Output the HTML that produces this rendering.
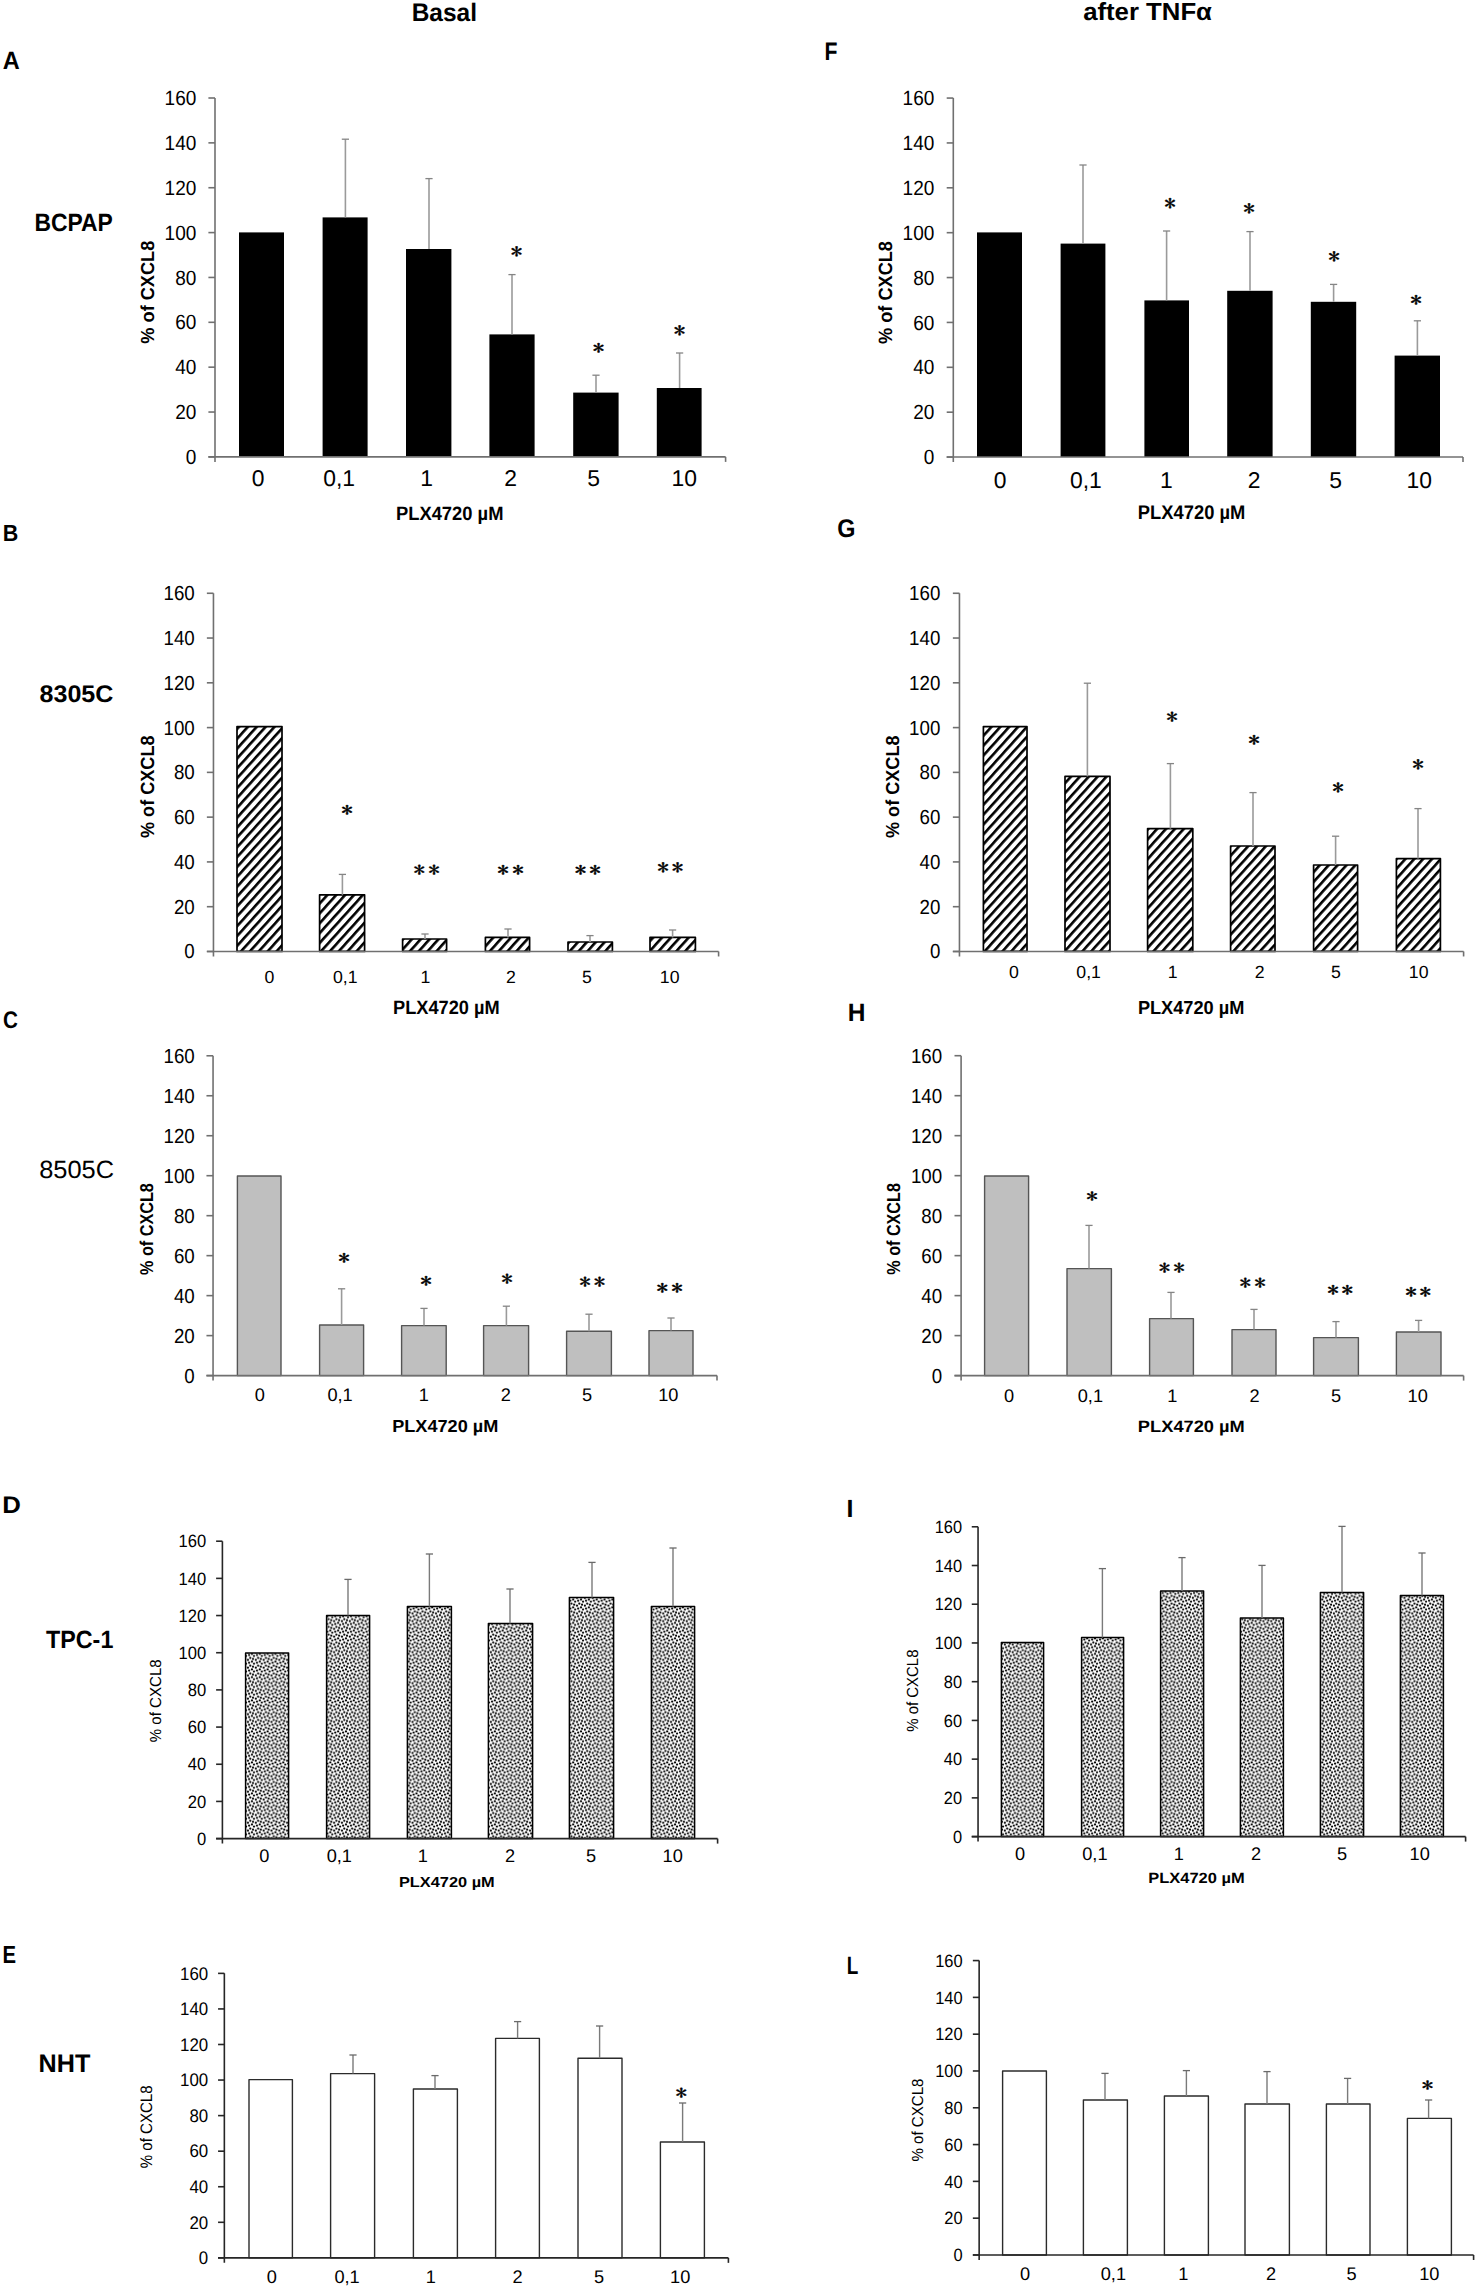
<!DOCTYPE html>
<html><head><meta charset="utf-8"><title>CXCL8 PLX4720 figure</title>
<style>html,body{margin:0;padding:0;background:#fff;}svg{display:block;}</style></head>
<body><svg width="1475" height="2292" viewBox="0 0 1475 2292" font-family='"Liberation Sans", sans-serif' text-rendering="geometricPrecision">
<defs>
<pattern id="hatchB" patternUnits="userSpaceOnUse" width="6.6" height="20" patternTransform="translate(3.5 0) rotate(42)">
<rect x="0" y="0" width="2.6" height="20" fill="#000"/>
</pattern>
<pattern id="hatchG" patternUnits="userSpaceOnUse" width="6.6" height="20" patternTransform="translate(1.1 0) rotate(42)">
<rect x="0" y="0" width="2.6" height="20" fill="#000"/>
</pattern>
<pattern id="dotsD" patternUnits="userSpaceOnUse" x="250" y="1700" width="7.835" height="7.755"><rect width="7.835" height="7.755" fill="#fff"/><circle cx="1.930" cy="0.410" r="1.1" fill="#000"/><circle cx="1.930" cy="8.165" r="1.1" fill="#000"/><circle cx="-0.925" cy="1.530" r="1.1" fill="#000"/><circle cx="6.910" cy="1.530" r="1.1" fill="#000"/><circle cx="3.970" cy="2.540" r="1.1" fill="#000"/><circle cx="0.310" cy="4.470" r="1.1" fill="#000"/><circle cx="8.145" cy="4.470" r="1.1" fill="#000"/><circle cx="2.950" cy="5.490" r="1.1" fill="#000"/><circle cx="5.800" cy="6.510" r="1.1" fill="#000"/></pattern>
<pattern id="dotsI" patternUnits="userSpaceOnUse" x="1006.87" y="1700" width="7.835" height="7.755"><rect width="7.835" height="7.755" fill="#fff"/><circle cx="1.930" cy="0.410" r="1.1" fill="#000"/><circle cx="1.930" cy="8.165" r="1.1" fill="#000"/><circle cx="-0.925" cy="1.530" r="1.1" fill="#000"/><circle cx="6.910" cy="1.530" r="1.1" fill="#000"/><circle cx="3.970" cy="2.540" r="1.1" fill="#000"/><circle cx="0.310" cy="4.470" r="1.1" fill="#000"/><circle cx="8.145" cy="4.470" r="1.1" fill="#000"/><circle cx="2.950" cy="5.490" r="1.1" fill="#000"/><circle cx="5.800" cy="6.510" r="1.1" fill="#000"/></pattern>
</defs>
<rect width="1475" height="2292" fill="#fff"/>
<rect x="239" y="232.4" width="45" height="224.5" fill="#000"/>
<rect x="322.6" y="217.4" width="45" height="239.5" fill="#000"/>
<rect x="406" y="249" width="45.4" height="207.9" fill="#000"/>
<rect x="489.4" y="334.4" width="45.2" height="122.5" fill="#000"/>
<rect x="573.2" y="392.6" width="45.4" height="64.3" fill="#000"/>
<rect x="656.8" y="388" width="44.8" height="68.9" fill="#000"/>
<line x1="345.4" y1="217.4" x2="345.4" y2="139.2" stroke="#9a9a9a" stroke-width="1.6"/>
<line x1="341.8" y1="139.2" x2="349" y2="139.2" stroke="#858585" stroke-width="1.3"/>
<line x1="429" y1="249" x2="429" y2="178.6" stroke="#9a9a9a" stroke-width="1.6"/>
<line x1="425.4" y1="178.6" x2="432.6" y2="178.6" stroke="#858585" stroke-width="1.3"/>
<line x1="512" y1="334.4" x2="512" y2="274.6" stroke="#9a9a9a" stroke-width="1.6"/>
<line x1="508.4" y1="274.6" x2="515.6" y2="274.6" stroke="#858585" stroke-width="1.3"/>
<line x1="596" y1="392.6" x2="596" y2="375.2" stroke="#9a9a9a" stroke-width="1.6"/>
<line x1="592.4" y1="375.2" x2="599.6" y2="375.2" stroke="#858585" stroke-width="1.3"/>
<line x1="679.6" y1="388" x2="679.6" y2="353" stroke="#9a9a9a" stroke-width="1.6"/>
<line x1="676" y1="353" x2="683.2" y2="353" stroke="#858585" stroke-width="1.3"/>
<line x1="215" y1="98" x2="215" y2="461.9" stroke="#707070" stroke-width="1.6"/>
<line x1="208.4" y1="456.9" x2="725.6" y2="456.9" stroke="#707070" stroke-width="1.6"/>
<line x1="725.6" y1="456.9" x2="725.6" y2="461.9" stroke="#707070" stroke-width="1.6"/>
<line x1="208.4" y1="456.9" x2="215" y2="456.9" stroke="#707070" stroke-width="1.6"/>
<text x="185.77" y="463.98" font-size="20.58" fill="#000" textLength="10.57" lengthAdjust="spacingAndGlyphs">0</text>
<line x1="208.4" y1="412.04" x2="215" y2="412.04" stroke="#707070" stroke-width="1.6"/>
<text x="175.2" y="419.12" font-size="20.58" fill="#000" textLength="21.15" lengthAdjust="spacingAndGlyphs">20</text>
<line x1="208.4" y1="367.17" x2="215" y2="367.17" stroke="#707070" stroke-width="1.6"/>
<text x="175.2" y="374.26" font-size="20.58" fill="#000" textLength="21.15" lengthAdjust="spacingAndGlyphs">40</text>
<line x1="208.4" y1="322.31" x2="215" y2="322.31" stroke="#707070" stroke-width="1.6"/>
<text x="175.2" y="329.4" font-size="20.58" fill="#000" textLength="21.15" lengthAdjust="spacingAndGlyphs">60</text>
<line x1="208.4" y1="277.45" x2="215" y2="277.45" stroke="#707070" stroke-width="1.6"/>
<text x="175.2" y="284.53" font-size="20.58" fill="#000" textLength="21.15" lengthAdjust="spacingAndGlyphs">80</text>
<line x1="208.4" y1="232.59" x2="215" y2="232.59" stroke="#707070" stroke-width="1.6"/>
<text x="164.62" y="239.67" font-size="20.58" fill="#000" textLength="31.72" lengthAdjust="spacingAndGlyphs">100</text>
<line x1="208.4" y1="187.73" x2="215" y2="187.73" stroke="#707070" stroke-width="1.6"/>
<text x="164.62" y="194.81" font-size="20.58" fill="#000" textLength="31.72" lengthAdjust="spacingAndGlyphs">120</text>
<line x1="208.4" y1="142.86" x2="215" y2="142.86" stroke="#707070" stroke-width="1.6"/>
<text x="164.62" y="149.95" font-size="20.58" fill="#000" textLength="31.72" lengthAdjust="spacingAndGlyphs">140</text>
<line x1="208.4" y1="98" x2="215" y2="98" stroke="#707070" stroke-width="1.6"/>
<text x="164.62" y="105.08" font-size="20.58" fill="#000" textLength="31.72" lengthAdjust="spacingAndGlyphs">160</text>
<text x="251.64" y="486.3" font-size="22.88" fill="#000">0</text>
<text x="323.21" y="486.3" font-size="22.88" fill="#000">0,1</text>
<text x="420.32" y="486.3" font-size="22.88" fill="#000">1</text>
<text x="504.14" y="486.3" font-size="22.88" fill="#000">2</text>
<text x="587.16" y="486.3" font-size="22.88" fill="#000">5</text>
<text x="671.55" y="486.3" font-size="22.88" fill="#000">10</text>
<text transform="translate(510.82 259.33) scale(1.15 1)" font-family="IPAGothic, 'Liberation Sans', sans-serif" font-size="20.2" stroke="#000" stroke-width="0.35">*</text>
<text transform="translate(592.82 355.17) scale(1.22 1)" font-family="IPAGothic, 'Liberation Sans', sans-serif" font-size="19" stroke="#000" stroke-width="0.35">*</text>
<text transform="translate(673.82 338.33) scale(1.15 1)" font-family="IPAGothic, 'Liberation Sans', sans-serif" font-size="20.2" stroke="#000" stroke-width="0.35">*</text>
<text transform="translate(154.42 343.65) rotate(-90)" font-size="18.79" font-weight="bold" textLength="102.91" lengthAdjust="spacingAndGlyphs">% of CXCL8</text>
<text x="395.97" y="519.6" font-size="19.34" font-weight="bold" textLength="107.45" lengthAdjust="spacingAndGlyphs" fill="#000">PLX4720 µM</text>
<rect x="977" y="232.4" width="45" height="224.65" fill="#000"/>
<rect x="1060.6" y="243.6" width="44.8" height="213.45" fill="#000"/>
<rect x="1144.4" y="300.4" width="44.6" height="156.65" fill="#000"/>
<rect x="1227.2" y="290.8" width="45.4" height="166.25" fill="#000"/>
<rect x="1310.8" y="301.8" width="45.4" height="155.25" fill="#000"/>
<rect x="1394.6" y="355.6" width="45.4" height="101.45" fill="#000"/>
<line x1="1083" y1="243.6" x2="1083" y2="165" stroke="#9a9a9a" stroke-width="1.6"/>
<line x1="1079.4" y1="165" x2="1086.6" y2="165" stroke="#858585" stroke-width="1.3"/>
<line x1="1166.6" y1="300.4" x2="1166.6" y2="231" stroke="#9a9a9a" stroke-width="1.6"/>
<line x1="1163" y1="231" x2="1170.2" y2="231" stroke="#858585" stroke-width="1.3"/>
<line x1="1250" y1="290.8" x2="1250" y2="231.6" stroke="#9a9a9a" stroke-width="1.6"/>
<line x1="1246.4" y1="231.6" x2="1253.6" y2="231.6" stroke="#858585" stroke-width="1.3"/>
<line x1="1333.6" y1="301.8" x2="1333.6" y2="284.4" stroke="#9a9a9a" stroke-width="1.6"/>
<line x1="1330" y1="284.4" x2="1337.2" y2="284.4" stroke="#858585" stroke-width="1.3"/>
<line x1="1417.4" y1="355.6" x2="1417.4" y2="320.8" stroke="#9a9a9a" stroke-width="1.6"/>
<line x1="1413.8" y1="320.8" x2="1421" y2="320.8" stroke="#858585" stroke-width="1.3"/>
<line x1="953.3" y1="98.07" x2="953.3" y2="462.05" stroke="#707070" stroke-width="1.6"/>
<line x1="946.7" y1="457.05" x2="1463" y2="457.05" stroke="#707070" stroke-width="1.6"/>
<line x1="1463" y1="457.05" x2="1463" y2="462.05" stroke="#707070" stroke-width="1.6"/>
<line x1="946.7" y1="457.05" x2="953.3" y2="457.05" stroke="#707070" stroke-width="1.6"/>
<text x="923.77" y="464.13" font-size="20.58" fill="#000" textLength="10.57" lengthAdjust="spacingAndGlyphs">0</text>
<line x1="946.7" y1="412.18" x2="953.3" y2="412.18" stroke="#707070" stroke-width="1.6"/>
<text x="913.2" y="419.26" font-size="20.58" fill="#000" textLength="21.15" lengthAdjust="spacingAndGlyphs">20</text>
<line x1="946.7" y1="367.31" x2="953.3" y2="367.31" stroke="#707070" stroke-width="1.6"/>
<text x="913.2" y="374.39" font-size="20.58" fill="#000" textLength="21.15" lengthAdjust="spacingAndGlyphs">40</text>
<line x1="946.7" y1="322.43" x2="953.3" y2="322.43" stroke="#707070" stroke-width="1.6"/>
<text x="913.2" y="329.52" font-size="20.58" fill="#000" textLength="21.15" lengthAdjust="spacingAndGlyphs">60</text>
<line x1="946.7" y1="277.56" x2="953.3" y2="277.56" stroke="#707070" stroke-width="1.6"/>
<text x="913.2" y="284.64" font-size="20.58" fill="#000" textLength="21.15" lengthAdjust="spacingAndGlyphs">80</text>
<line x1="946.7" y1="232.69" x2="953.3" y2="232.69" stroke="#707070" stroke-width="1.6"/>
<text x="902.62" y="239.77" font-size="20.58" fill="#000" textLength="31.72" lengthAdjust="spacingAndGlyphs">100</text>
<line x1="946.7" y1="187.81" x2="953.3" y2="187.81" stroke="#707070" stroke-width="1.6"/>
<text x="902.62" y="194.9" font-size="20.58" fill="#000" textLength="31.72" lengthAdjust="spacingAndGlyphs">120</text>
<line x1="946.7" y1="142.94" x2="953.3" y2="142.94" stroke="#707070" stroke-width="1.6"/>
<text x="902.62" y="150.03" font-size="20.58" fill="#000" textLength="31.72" lengthAdjust="spacingAndGlyphs">140</text>
<line x1="946.7" y1="98.07" x2="953.3" y2="98.07" stroke="#707070" stroke-width="1.6"/>
<text x="902.62" y="105.15" font-size="20.58" fill="#000" textLength="31.72" lengthAdjust="spacingAndGlyphs">160</text>
<text x="993.74" y="487.5" font-size="22.88" fill="#000">0</text>
<text x="1070.01" y="487.5" font-size="22.88" fill="#000">0,1</text>
<text x="1159.92" y="487.5" font-size="22.88" fill="#000">1</text>
<text x="1247.84" y="487.5" font-size="22.88" fill="#000">2</text>
<text x="1329.26" y="487.5" font-size="22.88" fill="#000">5</text>
<text x="1406.55" y="487.5" font-size="22.88" fill="#000">10</text>
<text transform="translate(1164.22 210.98) scale(1.12 1)" font-family="IPAGothic, 'Liberation Sans', sans-serif" font-size="20.6" stroke="#000" stroke-width="0.35">*</text>
<text transform="translate(1243.22 215.73) scale(1.15 1)" font-family="IPAGothic, 'Liberation Sans', sans-serif" font-size="20.2" stroke="#000" stroke-width="0.35">*</text>
<text transform="translate(1328.22 264.33) scale(1.15 1)" font-family="IPAGothic, 'Liberation Sans', sans-serif" font-size="20.2" stroke="#000" stroke-width="0.35">*</text>
<text transform="translate(1410.22 307.17) scale(1.22 1)" font-family="IPAGothic, 'Liberation Sans', sans-serif" font-size="19" stroke="#000" stroke-width="0.35">*</text>
<text transform="translate(892.31 343.95) rotate(-90)" font-size="19.2" font-weight="bold" textLength="102.91" lengthAdjust="spacingAndGlyphs">% of CXCL8</text>
<text x="1137.87" y="518.8" font-size="19.77" font-weight="bold" textLength="107.45" lengthAdjust="spacingAndGlyphs" fill="#000">PLX4720 µM</text>
<rect x="237" y="726.6" width="45" height="224.87" fill="url(#hatchB)" stroke="#000" stroke-width="1.7" stroke-linejoin="round"/>
<rect x="319.6" y="894.8" width="45" height="56.67" fill="url(#hatchB)" stroke="#000" stroke-width="1.7" stroke-linejoin="round"/>
<rect x="402.6" y="939" width="44" height="12.47" fill="url(#hatchB)" stroke="#000" stroke-width="1.7" stroke-linejoin="round"/>
<rect x="485.4" y="937.4" width="44.2" height="14.07" fill="url(#hatchB)" stroke="#000" stroke-width="1.7" stroke-linejoin="round"/>
<rect x="568" y="942" width="44.4" height="9.47" fill="url(#hatchB)" stroke="#000" stroke-width="1.7" stroke-linejoin="round"/>
<rect x="650" y="937.4" width="45.4" height="14.07" fill="url(#hatchB)" stroke="#000" stroke-width="1.7" stroke-linejoin="round"/>
<line x1="342.4" y1="894.8" x2="342.4" y2="874.4" stroke="#9a9a9a" stroke-width="1.6"/>
<line x1="338.8" y1="874.4" x2="346" y2="874.4" stroke="#858585" stroke-width="1.3"/>
<line x1="425" y1="939" x2="425" y2="934" stroke="#9a9a9a" stroke-width="1.6"/>
<line x1="421.4" y1="934" x2="428.6" y2="934" stroke="#858585" stroke-width="1.3"/>
<line x1="508" y1="937.4" x2="508" y2="929" stroke="#9a9a9a" stroke-width="1.6"/>
<line x1="504.4" y1="929" x2="511.6" y2="929" stroke="#858585" stroke-width="1.3"/>
<line x1="590" y1="942" x2="590" y2="935.6" stroke="#9a9a9a" stroke-width="1.6"/>
<line x1="586.4" y1="935.6" x2="593.6" y2="935.6" stroke="#858585" stroke-width="1.3"/>
<line x1="672.6" y1="937.4" x2="672.6" y2="930" stroke="#9a9a9a" stroke-width="1.6"/>
<line x1="669" y1="930" x2="676.2" y2="930" stroke="#858585" stroke-width="1.3"/>
<line x1="213.46" y1="593.27" x2="213.46" y2="956.47" stroke="#707070" stroke-width="1.6"/>
<line x1="206.86" y1="951.47" x2="718.6" y2="951.47" stroke="#707070" stroke-width="1.6"/>
<line x1="718.6" y1="951.47" x2="718.6" y2="956.47" stroke="#707070" stroke-width="1.6"/>
<line x1="206.86" y1="951.47" x2="213.46" y2="951.47" stroke="#707070" stroke-width="1.6"/>
<text x="184.32" y="958.45" font-size="20.27" fill="#000" textLength="10.41" lengthAdjust="spacingAndGlyphs">0</text>
<line x1="206.86" y1="906.7" x2="213.46" y2="906.7" stroke="#707070" stroke-width="1.6"/>
<text x="173.91" y="913.67" font-size="20.27" fill="#000" textLength="20.82" lengthAdjust="spacingAndGlyphs">20</text>
<line x1="206.86" y1="861.92" x2="213.46" y2="861.92" stroke="#707070" stroke-width="1.6"/>
<text x="173.91" y="868.9" font-size="20.27" fill="#000" textLength="20.82" lengthAdjust="spacingAndGlyphs">40</text>
<line x1="206.86" y1="817.14" x2="213.46" y2="817.14" stroke="#707070" stroke-width="1.6"/>
<text x="173.91" y="824.12" font-size="20.27" fill="#000" textLength="20.82" lengthAdjust="spacingAndGlyphs">60</text>
<line x1="206.86" y1="772.37" x2="213.46" y2="772.37" stroke="#707070" stroke-width="1.6"/>
<text x="173.91" y="779.35" font-size="20.27" fill="#000" textLength="20.82" lengthAdjust="spacingAndGlyphs">80</text>
<line x1="206.86" y1="727.6" x2="213.46" y2="727.6" stroke="#707070" stroke-width="1.6"/>
<text x="163.5" y="734.57" font-size="20.27" fill="#000" textLength="31.24" lengthAdjust="spacingAndGlyphs">100</text>
<line x1="206.86" y1="682.82" x2="213.46" y2="682.82" stroke="#707070" stroke-width="1.6"/>
<text x="163.5" y="689.8" font-size="20.27" fill="#000" textLength="31.24" lengthAdjust="spacingAndGlyphs">120</text>
<line x1="206.86" y1="638.04" x2="213.46" y2="638.04" stroke="#707070" stroke-width="1.6"/>
<text x="163.5" y="645.02" font-size="20.27" fill="#000" textLength="31.24" lengthAdjust="spacingAndGlyphs">140</text>
<line x1="206.86" y1="593.27" x2="213.46" y2="593.27" stroke="#707070" stroke-width="1.6"/>
<text x="163.5" y="600.25" font-size="20.27" fill="#000" textLength="31.24" lengthAdjust="spacingAndGlyphs">160</text>
<text x="264.58" y="983" font-size="17.68" fill="#000">0</text>
<text x="332.9" y="983" font-size="17.68" fill="#000">0,1</text>
<text x="420.44" y="983" font-size="17.68" fill="#000">1</text>
<text x="506.08" y="983" font-size="17.68" fill="#000">2</text>
<text x="582.1" y="983" font-size="17.68" fill="#000">5</text>
<text x="659.84" y="983" font-size="17.68" fill="#000">10</text>
<text transform="translate(341.22 816.57) scale(1.22 1)" font-family="IPAGothic, 'Liberation Sans', sans-serif" font-size="19" stroke="#000" stroke-width="0.35">*</text>
<text transform="translate(413.62 877.42) scale(1.19 1)" font-family="IPAGothic, 'Liberation Sans', sans-serif" font-size="19.4" stroke="#000" stroke-width="0.35">*</text>
<text transform="translate(428.22 877.42) scale(1.19 1)" font-family="IPAGothic, 'Liberation Sans', sans-serif" font-size="19.4" stroke="#000" stroke-width="0.35">*</text>
<text transform="translate(497.22 877.17) scale(1.22 1)" font-family="IPAGothic, 'Liberation Sans', sans-serif" font-size="19" stroke="#000" stroke-width="0.35">*</text>
<text transform="translate(512.22 877.17) scale(1.22 1)" font-family="IPAGothic, 'Liberation Sans', sans-serif" font-size="19" stroke="#000" stroke-width="0.35">*</text>
<text transform="translate(574.82 877.17) scale(1.22 1)" font-family="IPAGothic, 'Liberation Sans', sans-serif" font-size="19" stroke="#000" stroke-width="0.35">*</text>
<text transform="translate(589.22 877.17) scale(1.22 1)" font-family="IPAGothic, 'Liberation Sans', sans-serif" font-size="19" stroke="#000" stroke-width="0.35">*</text>
<text transform="translate(657.22 875.33) scale(1.15 1)" font-family="IPAGothic, 'Liberation Sans', sans-serif" font-size="20.2" stroke="#000" stroke-width="0.35">*</text>
<text transform="translate(671.82 875.33) scale(1.15 1)" font-family="IPAGothic, 'Liberation Sans', sans-serif" font-size="20.2" stroke="#000" stroke-width="0.35">*</text>
<text transform="translate(153.51 838.05) rotate(-90)" font-size="19.06" font-weight="bold" textLength="102.61" lengthAdjust="spacingAndGlyphs">% of CXCL8</text>
<text x="393.08" y="1014" font-size="19.34" font-weight="bold" textLength="106.53" lengthAdjust="spacingAndGlyphs" fill="#000">PLX4720 µM</text>
<rect x="983.4" y="726.6" width="43.6" height="224.87" fill="url(#hatchG)" stroke="#000" stroke-width="1.7" stroke-linejoin="round"/>
<rect x="1065" y="776.4" width="45" height="175.07" fill="url(#hatchG)" stroke="#000" stroke-width="1.7" stroke-linejoin="round"/>
<rect x="1147.6" y="828.6" width="45.2" height="122.87" fill="url(#hatchG)" stroke="#000" stroke-width="1.7" stroke-linejoin="round"/>
<rect x="1230.6" y="846" width="44.4" height="105.47" fill="url(#hatchG)" stroke="#000" stroke-width="1.7" stroke-linejoin="round"/>
<rect x="1313.6" y="865" width="44" height="86.47" fill="url(#hatchG)" stroke="#000" stroke-width="1.7" stroke-linejoin="round"/>
<rect x="1396.4" y="858.6" width="44" height="92.87" fill="url(#hatchG)" stroke="#000" stroke-width="1.7" stroke-linejoin="round"/>
<line x1="1087.4" y1="776.4" x2="1087.4" y2="683.2" stroke="#9a9a9a" stroke-width="1.6"/>
<line x1="1083.8" y1="683.2" x2="1091" y2="683.2" stroke="#858585" stroke-width="1.3"/>
<line x1="1170.4" y1="828.6" x2="1170.4" y2="763.6" stroke="#9a9a9a" stroke-width="1.6"/>
<line x1="1166.8" y1="763.6" x2="1174" y2="763.6" stroke="#858585" stroke-width="1.3"/>
<line x1="1253" y1="846" x2="1253" y2="792.6" stroke="#9a9a9a" stroke-width="1.6"/>
<line x1="1249.4" y1="792.6" x2="1256.6" y2="792.6" stroke="#858585" stroke-width="1.3"/>
<line x1="1335.6" y1="865" x2="1335.6" y2="836.2" stroke="#9a9a9a" stroke-width="1.6"/>
<line x1="1332" y1="836.2" x2="1339.2" y2="836.2" stroke="#858585" stroke-width="1.3"/>
<line x1="1418" y1="858.6" x2="1418" y2="808.6" stroke="#9a9a9a" stroke-width="1.6"/>
<line x1="1414.4" y1="808.6" x2="1421.6" y2="808.6" stroke="#858585" stroke-width="1.3"/>
<line x1="959.46" y1="593.27" x2="959.46" y2="956.47" stroke="#707070" stroke-width="1.6"/>
<line x1="952.86" y1="951.47" x2="1463.6" y2="951.47" stroke="#707070" stroke-width="1.6"/>
<line x1="1463.6" y1="951.47" x2="1463.6" y2="956.47" stroke="#707070" stroke-width="1.6"/>
<line x1="952.86" y1="951.47" x2="959.46" y2="951.47" stroke="#707070" stroke-width="1.6"/>
<text x="929.92" y="958.45" font-size="20.27" fill="#000" textLength="10.41" lengthAdjust="spacingAndGlyphs">0</text>
<line x1="952.86" y1="906.7" x2="959.46" y2="906.7" stroke="#707070" stroke-width="1.6"/>
<text x="919.51" y="913.67" font-size="20.27" fill="#000" textLength="20.82" lengthAdjust="spacingAndGlyphs">20</text>
<line x1="952.86" y1="861.92" x2="959.46" y2="861.92" stroke="#707070" stroke-width="1.6"/>
<text x="919.51" y="868.9" font-size="20.27" fill="#000" textLength="20.82" lengthAdjust="spacingAndGlyphs">40</text>
<line x1="952.86" y1="817.14" x2="959.46" y2="817.14" stroke="#707070" stroke-width="1.6"/>
<text x="919.51" y="824.12" font-size="20.27" fill="#000" textLength="20.82" lengthAdjust="spacingAndGlyphs">60</text>
<line x1="952.86" y1="772.37" x2="959.46" y2="772.37" stroke="#707070" stroke-width="1.6"/>
<text x="919.51" y="779.35" font-size="20.27" fill="#000" textLength="20.82" lengthAdjust="spacingAndGlyphs">80</text>
<line x1="952.86" y1="727.6" x2="959.46" y2="727.6" stroke="#707070" stroke-width="1.6"/>
<text x="909.1" y="734.57" font-size="20.27" fill="#000" textLength="31.24" lengthAdjust="spacingAndGlyphs">100</text>
<line x1="952.86" y1="682.82" x2="959.46" y2="682.82" stroke="#707070" stroke-width="1.6"/>
<text x="909.1" y="689.8" font-size="20.27" fill="#000" textLength="31.24" lengthAdjust="spacingAndGlyphs">120</text>
<line x1="952.86" y1="638.04" x2="959.46" y2="638.04" stroke="#707070" stroke-width="1.6"/>
<text x="909.1" y="645.02" font-size="20.27" fill="#000" textLength="31.24" lengthAdjust="spacingAndGlyphs">140</text>
<line x1="952.86" y1="593.27" x2="959.46" y2="593.27" stroke="#707070" stroke-width="1.6"/>
<text x="909.1" y="600.25" font-size="20.27" fill="#000" textLength="31.24" lengthAdjust="spacingAndGlyphs">160</text>
<text x="1009.08" y="978.3" font-size="17.68" fill="#000">0</text>
<text x="1076.3" y="978.3" font-size="17.68" fill="#000">0,1</text>
<text x="1167.84" y="978.3" font-size="17.68" fill="#000">1</text>
<text x="1254.68" y="978.3" font-size="17.68" fill="#000">2</text>
<text x="1331.1" y="978.3" font-size="17.68" fill="#000">5</text>
<text x="1408.84" y="978.3" font-size="17.68" fill="#000">10</text>
<text transform="translate(1166.22 724.22) scale(1.19 1)" font-family="IPAGothic, 'Liberation Sans', sans-serif" font-size="19.4" stroke="#000" stroke-width="0.35">*</text>
<text transform="translate(1248.22 746.57) scale(1.22 1)" font-family="IPAGothic, 'Liberation Sans', sans-serif" font-size="19" stroke="#000" stroke-width="0.35">*</text>
<text transform="translate(1332.22 794.67) scale(1.17 1)" font-family="IPAGothic, 'Liberation Sans', sans-serif" font-size="19.8" stroke="#000" stroke-width="0.35">*</text>
<text transform="translate(1412.22 772.33) scale(1.15 1)" font-family="IPAGothic, 'Liberation Sans', sans-serif" font-size="20.2" stroke="#000" stroke-width="0.35">*</text>
<text transform="translate(898.72 838.05) rotate(-90)" font-size="18.79" font-weight="bold" textLength="102.61" lengthAdjust="spacingAndGlyphs">% of CXCL8</text>
<text x="1137.88" y="1014.4" font-size="18.77" font-weight="bold" textLength="106.43" lengthAdjust="spacingAndGlyphs" fill="#000">PLX4720 µM</text>
<rect x="237.4" y="1176" width="43.6" height="199.58" fill="#bfbfbf" stroke="#555" stroke-width="1.4" stroke-linejoin="round"/>
<rect x="319.6" y="1325" width="44" height="50.58" fill="#bfbfbf" stroke="#555" stroke-width="1.4" stroke-linejoin="round"/>
<rect x="401.6" y="1325.6" width="44.6" height="49.98" fill="#bfbfbf" stroke="#555" stroke-width="1.4" stroke-linejoin="round"/>
<rect x="483.6" y="1325.6" width="45" height="49.98" fill="#bfbfbf" stroke="#555" stroke-width="1.4" stroke-linejoin="round"/>
<rect x="566.6" y="1331.2" width="44.8" height="44.38" fill="#bfbfbf" stroke="#555" stroke-width="1.4" stroke-linejoin="round"/>
<rect x="649" y="1330.6" width="44" height="44.98" fill="#bfbfbf" stroke="#555" stroke-width="1.4" stroke-linejoin="round"/>
<line x1="341.6" y1="1325" x2="341.6" y2="1288.8" stroke="#9a9a9a" stroke-width="1.6"/>
<line x1="338" y1="1288.8" x2="345.2" y2="1288.8" stroke="#858585" stroke-width="1.3"/>
<line x1="424" y1="1325.6" x2="424" y2="1308.4" stroke="#9a9a9a" stroke-width="1.6"/>
<line x1="420.4" y1="1308.4" x2="427.6" y2="1308.4" stroke="#858585" stroke-width="1.3"/>
<line x1="506.4" y1="1325.6" x2="506.4" y2="1306.2" stroke="#9a9a9a" stroke-width="1.6"/>
<line x1="502.8" y1="1306.2" x2="510" y2="1306.2" stroke="#858585" stroke-width="1.3"/>
<line x1="589" y1="1331.2" x2="589" y2="1314.2" stroke="#9a9a9a" stroke-width="1.6"/>
<line x1="585.4" y1="1314.2" x2="592.6" y2="1314.2" stroke="#858585" stroke-width="1.3"/>
<line x1="671" y1="1330.6" x2="671" y2="1318" stroke="#9a9a9a" stroke-width="1.6"/>
<line x1="667.4" y1="1318" x2="674.6" y2="1318" stroke="#858585" stroke-width="1.3"/>
<line x1="213.05" y1="1055.78" x2="213.05" y2="1380.58" stroke="#707070" stroke-width="1.6"/>
<line x1="206.45" y1="1375.58" x2="717" y2="1375.58" stroke="#707070" stroke-width="1.6"/>
<line x1="717" y1="1375.58" x2="717" y2="1380.58" stroke="#707070" stroke-width="1.6"/>
<line x1="206.45" y1="1375.58" x2="213.05" y2="1375.58" stroke="#707070" stroke-width="1.6"/>
<text x="184.32" y="1382.56" font-size="20.27" fill="#000" textLength="10.41" lengthAdjust="spacingAndGlyphs">0</text>
<line x1="206.45" y1="1335.61" x2="213.05" y2="1335.61" stroke="#707070" stroke-width="1.6"/>
<text x="173.91" y="1342.58" font-size="20.27" fill="#000" textLength="20.82" lengthAdjust="spacingAndGlyphs">20</text>
<line x1="206.45" y1="1295.63" x2="213.05" y2="1295.63" stroke="#707070" stroke-width="1.6"/>
<text x="173.91" y="1302.61" font-size="20.27" fill="#000" textLength="20.82" lengthAdjust="spacingAndGlyphs">40</text>
<line x1="206.45" y1="1255.65" x2="213.05" y2="1255.65" stroke="#707070" stroke-width="1.6"/>
<text x="173.91" y="1262.63" font-size="20.27" fill="#000" textLength="20.82" lengthAdjust="spacingAndGlyphs">60</text>
<line x1="206.45" y1="1215.68" x2="213.05" y2="1215.68" stroke="#707070" stroke-width="1.6"/>
<text x="173.91" y="1222.66" font-size="20.27" fill="#000" textLength="20.82" lengthAdjust="spacingAndGlyphs">80</text>
<line x1="206.45" y1="1175.7" x2="213.05" y2="1175.7" stroke="#707070" stroke-width="1.6"/>
<text x="163.5" y="1182.68" font-size="20.27" fill="#000" textLength="31.24" lengthAdjust="spacingAndGlyphs">100</text>
<line x1="206.45" y1="1135.73" x2="213.05" y2="1135.73" stroke="#707070" stroke-width="1.6"/>
<text x="163.5" y="1142.71" font-size="20.27" fill="#000" textLength="31.24" lengthAdjust="spacingAndGlyphs">120</text>
<line x1="206.45" y1="1095.76" x2="213.05" y2="1095.76" stroke="#707070" stroke-width="1.6"/>
<text x="163.5" y="1102.73" font-size="20.27" fill="#000" textLength="31.24" lengthAdjust="spacingAndGlyphs">140</text>
<line x1="206.45" y1="1055.78" x2="213.05" y2="1055.78" stroke="#707070" stroke-width="1.6"/>
<text x="163.5" y="1062.76" font-size="20.27" fill="#000" textLength="31.24" lengthAdjust="spacingAndGlyphs">160</text>
<text x="254.84" y="1400.6" font-size="18.2" fill="#000">0</text>
<text x="327.44" y="1400.6" font-size="18.2" fill="#000">0,1</text>
<text x="418.69" y="1400.6" font-size="18.2" fill="#000">1</text>
<text x="500.74" y="1400.6" font-size="18.2" fill="#000">2</text>
<text x="581.96" y="1400.6" font-size="18.2" fill="#000">5</text>
<text x="658.14" y="1400.6" font-size="18.2" fill="#000">10</text>
<text transform="translate(338.22 1264.57) scale(1.22 1)" font-family="IPAGothic, 'Liberation Sans', sans-serif" font-size="19" stroke="#000" stroke-width="0.35">*</text>
<text transform="translate(420.22 1287.57) scale(1.22 1)" font-family="IPAGothic, 'Liberation Sans', sans-serif" font-size="19" stroke="#000" stroke-width="0.35">*</text>
<text transform="translate(501.22 1286.22) scale(1.19 1)" font-family="IPAGothic, 'Liberation Sans', sans-serif" font-size="19.4" stroke="#000" stroke-width="0.35">*</text>
<text transform="translate(579.22 1288.82) scale(1.19 1)" font-family="IPAGothic, 'Liberation Sans', sans-serif" font-size="19.4" stroke="#000" stroke-width="0.35">*</text>
<text transform="translate(593.82 1288.82) scale(1.19 1)" font-family="IPAGothic, 'Liberation Sans', sans-serif" font-size="19.4" stroke="#000" stroke-width="0.35">*</text>
<text transform="translate(656.62 1294.57) scale(1.22 1)" font-family="IPAGothic, 'Liberation Sans', sans-serif" font-size="19" stroke="#000" stroke-width="0.35">*</text>
<text transform="translate(671.22 1294.57) scale(1.22 1)" font-family="IPAGothic, 'Liberation Sans', sans-serif" font-size="19" stroke="#000" stroke-width="0.35">*</text>
<text transform="translate(153.32 1275) rotate(-90)" font-size="18.52" font-weight="bold" textLength="91.9" lengthAdjust="spacingAndGlyphs">% of CXCL8</text>
<text x="392.19" y="1431.5" font-size="17.34" font-weight="bold" textLength="106.12" lengthAdjust="spacingAndGlyphs" fill="#000">PLX4720 µM</text>
<rect x="984.6" y="1176" width="44" height="199.6" fill="#bfbfbf" stroke="#555" stroke-width="1.4" stroke-linejoin="round"/>
<rect x="1067" y="1268.6" width="44.4" height="107" fill="#bfbfbf" stroke="#555" stroke-width="1.4" stroke-linejoin="round"/>
<rect x="1149.6" y="1318.6" width="43.8" height="57" fill="#bfbfbf" stroke="#555" stroke-width="1.4" stroke-linejoin="round"/>
<rect x="1232" y="1329.6" width="44" height="46" fill="#bfbfbf" stroke="#555" stroke-width="1.4" stroke-linejoin="round"/>
<rect x="1313.6" y="1337.6" width="44.8" height="38" fill="#bfbfbf" stroke="#555" stroke-width="1.4" stroke-linejoin="round"/>
<rect x="1396.4" y="1332" width="44.6" height="43.6" fill="#bfbfbf" stroke="#555" stroke-width="1.4" stroke-linejoin="round"/>
<line x1="1089" y1="1268.6" x2="1089" y2="1225.4" stroke="#9a9a9a" stroke-width="1.6"/>
<line x1="1085.4" y1="1225.4" x2="1092.6" y2="1225.4" stroke="#858585" stroke-width="1.3"/>
<line x1="1171" y1="1318.6" x2="1171" y2="1292.4" stroke="#9a9a9a" stroke-width="1.6"/>
<line x1="1167.4" y1="1292.4" x2="1174.6" y2="1292.4" stroke="#858585" stroke-width="1.3"/>
<line x1="1254" y1="1329.6" x2="1254" y2="1309.4" stroke="#9a9a9a" stroke-width="1.6"/>
<line x1="1250.4" y1="1309.4" x2="1257.6" y2="1309.4" stroke="#858585" stroke-width="1.3"/>
<line x1="1336" y1="1337.6" x2="1336" y2="1321.6" stroke="#9a9a9a" stroke-width="1.6"/>
<line x1="1332.4" y1="1321.6" x2="1339.6" y2="1321.6" stroke="#858585" stroke-width="1.3"/>
<line x1="1418.6" y1="1332" x2="1418.6" y2="1320.4" stroke="#9a9a9a" stroke-width="1.6"/>
<line x1="1415" y1="1320.4" x2="1422.2" y2="1320.4" stroke="#858585" stroke-width="1.3"/>
<line x1="961.1" y1="1055.7" x2="961.1" y2="1380.6" stroke="#707070" stroke-width="1.6"/>
<line x1="954.5" y1="1375.6" x2="1463.6" y2="1375.6" stroke="#707070" stroke-width="1.6"/>
<line x1="1463.6" y1="1375.6" x2="1463.6" y2="1380.6" stroke="#707070" stroke-width="1.6"/>
<line x1="954.5" y1="1375.6" x2="961.1" y2="1375.6" stroke="#707070" stroke-width="1.6"/>
<text x="931.72" y="1382.58" font-size="20.27" fill="#000" textLength="10.41" lengthAdjust="spacingAndGlyphs">0</text>
<line x1="954.5" y1="1335.61" x2="961.1" y2="1335.61" stroke="#707070" stroke-width="1.6"/>
<text x="921.31" y="1342.59" font-size="20.27" fill="#000" textLength="20.82" lengthAdjust="spacingAndGlyphs">20</text>
<line x1="954.5" y1="1295.62" x2="961.1" y2="1295.62" stroke="#707070" stroke-width="1.6"/>
<text x="921.31" y="1302.6" font-size="20.27" fill="#000" textLength="20.82" lengthAdjust="spacingAndGlyphs">40</text>
<line x1="954.5" y1="1255.64" x2="961.1" y2="1255.64" stroke="#707070" stroke-width="1.6"/>
<text x="921.31" y="1262.61" font-size="20.27" fill="#000" textLength="20.82" lengthAdjust="spacingAndGlyphs">60</text>
<line x1="954.5" y1="1215.65" x2="961.1" y2="1215.65" stroke="#707070" stroke-width="1.6"/>
<text x="921.31" y="1222.63" font-size="20.27" fill="#000" textLength="20.82" lengthAdjust="spacingAndGlyphs">80</text>
<line x1="954.5" y1="1175.66" x2="961.1" y2="1175.66" stroke="#707070" stroke-width="1.6"/>
<text x="910.9" y="1182.64" font-size="20.27" fill="#000" textLength="31.24" lengthAdjust="spacingAndGlyphs">100</text>
<line x1="954.5" y1="1135.67" x2="961.1" y2="1135.67" stroke="#707070" stroke-width="1.6"/>
<text x="910.9" y="1142.65" font-size="20.27" fill="#000" textLength="31.24" lengthAdjust="spacingAndGlyphs">120</text>
<line x1="954.5" y1="1095.69" x2="961.1" y2="1095.69" stroke="#707070" stroke-width="1.6"/>
<text x="910.9" y="1102.66" font-size="20.27" fill="#000" textLength="31.24" lengthAdjust="spacingAndGlyphs">140</text>
<line x1="954.5" y1="1055.7" x2="961.1" y2="1055.7" stroke="#707070" stroke-width="1.6"/>
<text x="910.9" y="1062.68" font-size="20.27" fill="#000" textLength="31.24" lengthAdjust="spacingAndGlyphs">160</text>
<text x="1003.94" y="1402.2" font-size="18.2" fill="#000">0</text>
<text x="1077.74" y="1402.2" font-size="18.2" fill="#000">0,1</text>
<text x="1167.19" y="1402.2" font-size="18.2" fill="#000">1</text>
<text x="1249.54" y="1402.2" font-size="18.2" fill="#000">2</text>
<text x="1330.96" y="1402.2" font-size="18.2" fill="#000">5</text>
<text x="1407.54" y="1402.2" font-size="18.2" fill="#000">10</text>
<text transform="translate(1086.22 1203.07) scale(1.27 1)" font-family="IPAGothic, 'Liberation Sans', sans-serif" font-size="18.2" stroke="#000" stroke-width="0.35">*</text>
<text transform="translate(1158.82 1274.82) scale(1.19 1)" font-family="IPAGothic, 'Liberation Sans', sans-serif" font-size="19.4" stroke="#000" stroke-width="0.35">*</text>
<text transform="translate(1173.22 1274.82) scale(1.19 1)" font-family="IPAGothic, 'Liberation Sans', sans-serif" font-size="19.4" stroke="#000" stroke-width="0.35">*</text>
<text transform="translate(1239.62 1290.22) scale(1.19 1)" font-family="IPAGothic, 'Liberation Sans', sans-serif" font-size="19.4" stroke="#000" stroke-width="0.35">*</text>
<text transform="translate(1254.22 1290.22) scale(1.19 1)" font-family="IPAGothic, 'Liberation Sans', sans-serif" font-size="19.4" stroke="#000" stroke-width="0.35">*</text>
<text transform="translate(1327.22 1296.57) scale(1.22 1)" font-family="IPAGothic, 'Liberation Sans', sans-serif" font-size="19" stroke="#000" stroke-width="0.35">*</text>
<text transform="translate(1341.62 1296.57) scale(1.22 1)" font-family="IPAGothic, 'Liberation Sans', sans-serif" font-size="19" stroke="#000" stroke-width="0.35">*</text>
<text transform="translate(1405.22 1298.57) scale(1.22 1)" font-family="IPAGothic, 'Liberation Sans', sans-serif" font-size="19" stroke="#000" stroke-width="0.35">*</text>
<text transform="translate(1419.62 1298.57) scale(1.22 1)" font-family="IPAGothic, 'Liberation Sans', sans-serif" font-size="19" stroke="#000" stroke-width="0.35">*</text>
<text transform="translate(900.42 1274.7) rotate(-90)" font-size="18.79" font-weight="bold" textLength="91.6" lengthAdjust="spacingAndGlyphs">% of CXCL8</text>
<text x="1137.88" y="1431.8" font-size="16.48" font-weight="bold" textLength="106.94" lengthAdjust="spacingAndGlyphs" fill="#000">PLX4720 µM</text>
<rect x="245.6" y="1653" width="43" height="185.6" fill="url(#dotsD)" stroke="#000" stroke-width="1.5" stroke-linejoin="round"/>
<rect x="326.6" y="1615.4" width="43" height="223.2" fill="url(#dotsD)" stroke="#000" stroke-width="1.5" stroke-linejoin="round"/>
<rect x="407.4" y="1606.6" width="44" height="232" fill="url(#dotsD)" stroke="#000" stroke-width="1.5" stroke-linejoin="round"/>
<rect x="488.4" y="1623.6" width="44.2" height="215" fill="url(#dotsD)" stroke="#000" stroke-width="1.5" stroke-linejoin="round"/>
<rect x="569.4" y="1597.6" width="44.2" height="241" fill="url(#dotsD)" stroke="#000" stroke-width="1.5" stroke-linejoin="round"/>
<rect x="651.4" y="1606.4" width="43.2" height="232.2" fill="url(#dotsD)" stroke="#000" stroke-width="1.5" stroke-linejoin="round"/>
<line x1="348" y1="1615.4" x2="348" y2="1579.4" stroke="#7a7a7a" stroke-width="1.4"/>
<line x1="344.4" y1="1579.4" x2="351.6" y2="1579.4" stroke="#6a6a6a" stroke-width="1.3"/>
<line x1="429.4" y1="1606.6" x2="429.4" y2="1554" stroke="#7a7a7a" stroke-width="1.4"/>
<line x1="425.8" y1="1554" x2="433" y2="1554" stroke="#6a6a6a" stroke-width="1.3"/>
<line x1="510" y1="1623.6" x2="510" y2="1589" stroke="#7a7a7a" stroke-width="1.4"/>
<line x1="506.4" y1="1589" x2="513.6" y2="1589" stroke="#6a6a6a" stroke-width="1.3"/>
<line x1="592" y1="1597.6" x2="592" y2="1562.4" stroke="#7a7a7a" stroke-width="1.4"/>
<line x1="588.4" y1="1562.4" x2="595.6" y2="1562.4" stroke="#6a6a6a" stroke-width="1.3"/>
<line x1="673" y1="1606.4" x2="673" y2="1548" stroke="#7a7a7a" stroke-width="1.4"/>
<line x1="669.4" y1="1548" x2="676.6" y2="1548" stroke="#6a6a6a" stroke-width="1.3"/>
<line x1="222.4" y1="1541.2" x2="222.4" y2="1843.6" stroke="#262626" stroke-width="1.6"/>
<line x1="216.1" y1="1838.6" x2="717.6" y2="1838.6" stroke="#262626" stroke-width="1.6"/>
<line x1="717.6" y1="1838.6" x2="717.6" y2="1843.6" stroke="#262626" stroke-width="1.6"/>
<line x1="216.1" y1="1838.6" x2="222.4" y2="1838.6" stroke="#262626" stroke-width="1.6"/>
<text x="197.02" y="1844.78" font-size="17.96" fill="#000" textLength="9.22" lengthAdjust="spacingAndGlyphs">0</text>
<line x1="216.1" y1="1801.42" x2="222.4" y2="1801.42" stroke="#262626" stroke-width="1.6"/>
<text x="187.8" y="1807.61" font-size="17.96" fill="#000" textLength="18.45" lengthAdjust="spacingAndGlyphs">20</text>
<line x1="216.1" y1="1764.25" x2="222.4" y2="1764.25" stroke="#262626" stroke-width="1.6"/>
<text x="187.8" y="1770.43" font-size="17.96" fill="#000" textLength="18.45" lengthAdjust="spacingAndGlyphs">40</text>
<line x1="216.1" y1="1727.08" x2="222.4" y2="1727.08" stroke="#262626" stroke-width="1.6"/>
<text x="187.8" y="1733.26" font-size="17.96" fill="#000" textLength="18.45" lengthAdjust="spacingAndGlyphs">60</text>
<line x1="216.1" y1="1689.9" x2="222.4" y2="1689.9" stroke="#262626" stroke-width="1.6"/>
<text x="187.8" y="1696.08" font-size="17.96" fill="#000" textLength="18.45" lengthAdjust="spacingAndGlyphs">80</text>
<line x1="216.1" y1="1652.72" x2="222.4" y2="1652.72" stroke="#262626" stroke-width="1.6"/>
<text x="178.57" y="1658.91" font-size="17.96" fill="#000" textLength="27.67" lengthAdjust="spacingAndGlyphs">100</text>
<line x1="216.1" y1="1615.55" x2="222.4" y2="1615.55" stroke="#262626" stroke-width="1.6"/>
<text x="178.57" y="1621.73" font-size="17.96" fill="#000" textLength="27.67" lengthAdjust="spacingAndGlyphs">120</text>
<line x1="216.1" y1="1578.38" x2="222.4" y2="1578.38" stroke="#262626" stroke-width="1.6"/>
<text x="178.57" y="1584.56" font-size="17.96" fill="#000" textLength="27.67" lengthAdjust="spacingAndGlyphs">140</text>
<line x1="216.1" y1="1541.2" x2="222.4" y2="1541.2" stroke="#262626" stroke-width="1.6"/>
<text x="178.57" y="1547.38" font-size="17.96" fill="#000" textLength="27.67" lengthAdjust="spacingAndGlyphs">160</text>
<text x="259.24" y="1861.5" font-size="18.2" fill="#000">0</text>
<text x="326.64" y="1861.5" font-size="18.2" fill="#000">0,1</text>
<text x="417.69" y="1861.5" font-size="18.2" fill="#000">1</text>
<text x="504.94" y="1861.5" font-size="18.2" fill="#000">2</text>
<text x="585.96" y="1861.5" font-size="18.2" fill="#000">5</text>
<text x="662.54" y="1861.5" font-size="18.2" fill="#000">10</text>
<text transform="translate(161.14 1742.24) rotate(-90)" font-size="15.95" textLength="82.89" lengthAdjust="spacingAndGlyphs">% of CXCL8</text>
<text x="398.91" y="1887.4" font-size="14.47" font-weight="bold" textLength="95.79" lengthAdjust="spacingAndGlyphs" fill="#000">PLX4720 µM</text>
<rect x="1001.4" y="1642.6" width="42.2" height="194" fill="url(#dotsI)" stroke="#000" stroke-width="1.5" stroke-linejoin="round"/>
<rect x="1081.6" y="1637.6" width="42" height="199" fill="url(#dotsI)" stroke="#000" stroke-width="1.5" stroke-linejoin="round"/>
<rect x="1160.6" y="1591" width="43" height="245.6" fill="url(#dotsI)" stroke="#000" stroke-width="1.5" stroke-linejoin="round"/>
<rect x="1240.4" y="1618" width="43" height="218.6" fill="url(#dotsI)" stroke="#000" stroke-width="1.5" stroke-linejoin="round"/>
<rect x="1320.4" y="1592.6" width="43.2" height="244" fill="url(#dotsI)" stroke="#000" stroke-width="1.5" stroke-linejoin="round"/>
<rect x="1400.4" y="1595.6" width="43" height="241" fill="url(#dotsI)" stroke="#000" stroke-width="1.5" stroke-linejoin="round"/>
<line x1="1102.4" y1="1637.6" x2="1102.4" y2="1568.6" stroke="#7a7a7a" stroke-width="1.4"/>
<line x1="1098.8" y1="1568.6" x2="1106" y2="1568.6" stroke="#6a6a6a" stroke-width="1.3"/>
<line x1="1182" y1="1591" x2="1182" y2="1557.6" stroke="#7a7a7a" stroke-width="1.4"/>
<line x1="1178.4" y1="1557.6" x2="1185.6" y2="1557.6" stroke="#6a6a6a" stroke-width="1.3"/>
<line x1="1262" y1="1618" x2="1262" y2="1565.4" stroke="#7a7a7a" stroke-width="1.4"/>
<line x1="1258.4" y1="1565.4" x2="1265.6" y2="1565.4" stroke="#6a6a6a" stroke-width="1.3"/>
<line x1="1342" y1="1592.6" x2="1342" y2="1526.4" stroke="#7a7a7a" stroke-width="1.4"/>
<line x1="1338.4" y1="1526.4" x2="1345.6" y2="1526.4" stroke="#6a6a6a" stroke-width="1.3"/>
<line x1="1422" y1="1595.6" x2="1422" y2="1553" stroke="#7a7a7a" stroke-width="1.4"/>
<line x1="1418.4" y1="1553" x2="1425.6" y2="1553" stroke="#6a6a6a" stroke-width="1.3"/>
<line x1="978.05" y1="1526.78" x2="978.05" y2="1841.6" stroke="#262626" stroke-width="1.6"/>
<line x1="971.75" y1="1836.6" x2="1465.6" y2="1836.6" stroke="#262626" stroke-width="1.6"/>
<line x1="1465.6" y1="1836.6" x2="1465.6" y2="1841.6" stroke="#262626" stroke-width="1.6"/>
<line x1="971.75" y1="1836.6" x2="978.05" y2="1836.6" stroke="#262626" stroke-width="1.6"/>
<text x="952.92" y="1842.71" font-size="17.75" fill="#000" textLength="9.12" lengthAdjust="spacingAndGlyphs">0</text>
<line x1="971.75" y1="1797.87" x2="978.05" y2="1797.87" stroke="#262626" stroke-width="1.6"/>
<text x="943.81" y="1803.98" font-size="17.75" fill="#000" textLength="18.23" lengthAdjust="spacingAndGlyphs">20</text>
<line x1="971.75" y1="1759.14" x2="978.05" y2="1759.14" stroke="#262626" stroke-width="1.6"/>
<text x="943.81" y="1765.25" font-size="17.75" fill="#000" textLength="18.23" lengthAdjust="spacingAndGlyphs">40</text>
<line x1="971.75" y1="1720.42" x2="978.05" y2="1720.42" stroke="#262626" stroke-width="1.6"/>
<text x="943.81" y="1726.53" font-size="17.75" fill="#000" textLength="18.23" lengthAdjust="spacingAndGlyphs">60</text>
<line x1="971.75" y1="1681.69" x2="978.05" y2="1681.69" stroke="#262626" stroke-width="1.6"/>
<text x="943.81" y="1687.8" font-size="17.75" fill="#000" textLength="18.23" lengthAdjust="spacingAndGlyphs">80</text>
<line x1="971.75" y1="1642.96" x2="978.05" y2="1642.96" stroke="#262626" stroke-width="1.6"/>
<text x="934.69" y="1649.07" font-size="17.75" fill="#000" textLength="27.35" lengthAdjust="spacingAndGlyphs">100</text>
<line x1="971.75" y1="1604.23" x2="978.05" y2="1604.23" stroke="#262626" stroke-width="1.6"/>
<text x="934.69" y="1610.34" font-size="17.75" fill="#000" textLength="27.35" lengthAdjust="spacingAndGlyphs">120</text>
<line x1="971.75" y1="1565.51" x2="978.05" y2="1565.51" stroke="#262626" stroke-width="1.6"/>
<text x="934.69" y="1571.62" font-size="17.75" fill="#000" textLength="27.35" lengthAdjust="spacingAndGlyphs">140</text>
<line x1="971.75" y1="1526.78" x2="978.05" y2="1526.78" stroke="#262626" stroke-width="1.6"/>
<text x="934.69" y="1532.89" font-size="17.75" fill="#000" textLength="27.35" lengthAdjust="spacingAndGlyphs">160</text>
<text x="1014.94" y="1859.8" font-size="18.2" fill="#000">0</text>
<text x="1082.24" y="1859.8" font-size="18.2" fill="#000">0,1</text>
<text x="1173.69" y="1859.8" font-size="18.2" fill="#000">1</text>
<text x="1250.94" y="1859.8" font-size="18.2" fill="#000">2</text>
<text x="1336.96" y="1859.8" font-size="18.2" fill="#000">5</text>
<text x="1409.54" y="1859.8" font-size="18.2" fill="#000">10</text>
<text transform="translate(918.14 1731.73) rotate(-90)" font-size="16.09" textLength="82.18" lengthAdjust="spacingAndGlyphs">% of CXCL8</text>
<text x="1148.3" y="1882.6" font-size="14.76" font-weight="bold" textLength="96.4" lengthAdjust="spacingAndGlyphs" fill="#000">PLX4720 µM</text>
<rect x="249" y="2079.6" width="43.4" height="178.26" fill="#fff" stroke="#2b2b2b" stroke-width="1.4" stroke-linejoin="round"/>
<rect x="330.6" y="2073.6" width="44" height="184.26" fill="#fff" stroke="#2b2b2b" stroke-width="1.4" stroke-linejoin="round"/>
<rect x="413.4" y="2089" width="44" height="168.86" fill="#fff" stroke="#2b2b2b" stroke-width="1.4" stroke-linejoin="round"/>
<rect x="495.6" y="2038.4" width="43.8" height="219.46" fill="#fff" stroke="#2b2b2b" stroke-width="1.4" stroke-linejoin="round"/>
<rect x="578" y="2058.2" width="44" height="199.66" fill="#fff" stroke="#2b2b2b" stroke-width="1.4" stroke-linejoin="round"/>
<rect x="660.4" y="2142" width="44" height="115.86" fill="#fff" stroke="#2b2b2b" stroke-width="1.4" stroke-linejoin="round"/>
<line x1="353" y1="2073.6" x2="353" y2="2055" stroke="#7a7a7a" stroke-width="1.4"/>
<line x1="349.4" y1="2055" x2="356.6" y2="2055" stroke="#6a6a6a" stroke-width="1.3"/>
<line x1="435" y1="2089" x2="435" y2="2075.6" stroke="#7a7a7a" stroke-width="1.4"/>
<line x1="431.4" y1="2075.6" x2="438.6" y2="2075.6" stroke="#6a6a6a" stroke-width="1.3"/>
<line x1="517.6" y1="2038.4" x2="517.6" y2="2021.6" stroke="#7a7a7a" stroke-width="1.4"/>
<line x1="514" y1="2021.6" x2="521.2" y2="2021.6" stroke="#6a6a6a" stroke-width="1.3"/>
<line x1="599.6" y1="2058.2" x2="599.6" y2="2026" stroke="#7a7a7a" stroke-width="1.4"/>
<line x1="596" y1="2026" x2="603.2" y2="2026" stroke="#6a6a6a" stroke-width="1.3"/>
<line x1="682.6" y1="2142" x2="682.6" y2="2103" stroke="#7a7a7a" stroke-width="1.4"/>
<line x1="679" y1="2103" x2="686.2" y2="2103" stroke="#6a6a6a" stroke-width="1.3"/>
<line x1="224.35" y1="1973.37" x2="224.35" y2="2262.86" stroke="#262626" stroke-width="1.6"/>
<line x1="218.05" y1="2257.86" x2="728.4" y2="2257.86" stroke="#262626" stroke-width="1.6"/>
<line x1="728.4" y1="2257.86" x2="728.4" y2="2262.86" stroke="#262626" stroke-width="1.6"/>
<line x1="218.05" y1="2257.86" x2="224.35" y2="2257.86" stroke="#262626" stroke-width="1.6"/>
<text x="198.87" y="2264.15" font-size="18.27" fill="#000" textLength="9.39" lengthAdjust="spacingAndGlyphs">0</text>
<line x1="218.05" y1="2222.3" x2="224.35" y2="2222.3" stroke="#262626" stroke-width="1.6"/>
<text x="189.49" y="2228.59" font-size="18.27" fill="#000" textLength="18.77" lengthAdjust="spacingAndGlyphs">20</text>
<line x1="218.05" y1="2186.74" x2="224.35" y2="2186.74" stroke="#262626" stroke-width="1.6"/>
<text x="189.49" y="2193.03" font-size="18.27" fill="#000" textLength="18.77" lengthAdjust="spacingAndGlyphs">40</text>
<line x1="218.05" y1="2151.18" x2="224.35" y2="2151.18" stroke="#262626" stroke-width="1.6"/>
<text x="189.49" y="2157.47" font-size="18.27" fill="#000" textLength="18.77" lengthAdjust="spacingAndGlyphs">60</text>
<line x1="218.05" y1="2115.61" x2="224.35" y2="2115.61" stroke="#262626" stroke-width="1.6"/>
<text x="189.49" y="2121.9" font-size="18.27" fill="#000" textLength="18.77" lengthAdjust="spacingAndGlyphs">80</text>
<line x1="218.05" y1="2080.05" x2="224.35" y2="2080.05" stroke="#262626" stroke-width="1.6"/>
<text x="180.1" y="2086.34" font-size="18.27" fill="#000" textLength="28.16" lengthAdjust="spacingAndGlyphs">100</text>
<line x1="218.05" y1="2044.49" x2="224.35" y2="2044.49" stroke="#262626" stroke-width="1.6"/>
<text x="180.1" y="2050.78" font-size="18.27" fill="#000" textLength="28.16" lengthAdjust="spacingAndGlyphs">120</text>
<line x1="218.05" y1="2008.93" x2="224.35" y2="2008.93" stroke="#262626" stroke-width="1.6"/>
<text x="180.1" y="2015.22" font-size="18.27" fill="#000" textLength="28.16" lengthAdjust="spacingAndGlyphs">140</text>
<line x1="218.05" y1="1973.37" x2="224.35" y2="1973.37" stroke="#262626" stroke-width="1.6"/>
<text x="180.1" y="1979.66" font-size="18.27" fill="#000" textLength="28.16" lengthAdjust="spacingAndGlyphs">160</text>
<text x="266.64" y="2283.4" font-size="18.2" fill="#000">0</text>
<text x="334.44" y="2283.4" font-size="18.2" fill="#000">0,1</text>
<text x="425.69" y="2283.4" font-size="18.2" fill="#000">1</text>
<text x="512.54" y="2283.4" font-size="18.2" fill="#000">2</text>
<text x="593.96" y="2283.4" font-size="18.2" fill="#000">5</text>
<text x="670.04" y="2283.4" font-size="18.2" fill="#000">10</text>
<text transform="translate(675.62 2099.82) scale(1.19 1)" font-family="IPAGothic, 'Liberation Sans', sans-serif" font-size="19.4" stroke="#000" stroke-width="0.35">*</text>
<text transform="translate(151.74 2168.34) rotate(-90)" font-size="16.63" textLength="82.99" lengthAdjust="spacingAndGlyphs">% of CXCL8</text>
<rect x="1002.6" y="2071" width="43.8" height="183.97" fill="#fff" stroke="#2b2b2b" stroke-width="1.4" stroke-linejoin="round"/>
<rect x="1083.4" y="2100" width="44" height="154.97" fill="#fff" stroke="#2b2b2b" stroke-width="1.4" stroke-linejoin="round"/>
<rect x="1164.4" y="2096" width="44" height="158.97" fill="#fff" stroke="#2b2b2b" stroke-width="1.4" stroke-linejoin="round"/>
<rect x="1245" y="2104" width="44.4" height="150.97" fill="#fff" stroke="#2b2b2b" stroke-width="1.4" stroke-linejoin="round"/>
<rect x="1326.4" y="2104" width="43.6" height="150.97" fill="#fff" stroke="#2b2b2b" stroke-width="1.4" stroke-linejoin="round"/>
<rect x="1407.4" y="2118.4" width="44" height="136.57" fill="#fff" stroke="#2b2b2b" stroke-width="1.4" stroke-linejoin="round"/>
<line x1="1105" y1="2100" x2="1105" y2="2073.4" stroke="#7a7a7a" stroke-width="1.4"/>
<line x1="1101.4" y1="2073.4" x2="1108.6" y2="2073.4" stroke="#6a6a6a" stroke-width="1.3"/>
<line x1="1186.4" y1="2096" x2="1186.4" y2="2070.6" stroke="#7a7a7a" stroke-width="1.4"/>
<line x1="1182.8" y1="2070.6" x2="1190" y2="2070.6" stroke="#6a6a6a" stroke-width="1.3"/>
<line x1="1267" y1="2104" x2="1267" y2="2071.6" stroke="#7a7a7a" stroke-width="1.4"/>
<line x1="1263.4" y1="2071.6" x2="1270.6" y2="2071.6" stroke="#6a6a6a" stroke-width="1.3"/>
<line x1="1347.6" y1="2104" x2="1347.6" y2="2078.4" stroke="#7a7a7a" stroke-width="1.4"/>
<line x1="1344" y1="2078.4" x2="1351.2" y2="2078.4" stroke="#6a6a6a" stroke-width="1.3"/>
<line x1="1428.6" y1="2118.4" x2="1428.6" y2="2100" stroke="#7a7a7a" stroke-width="1.4"/>
<line x1="1425" y1="2100" x2="1432.2" y2="2100" stroke="#6a6a6a" stroke-width="1.3"/>
<line x1="979.15" y1="1960.58" x2="979.15" y2="2259.97" stroke="#262626" stroke-width="1.6"/>
<line x1="972.85" y1="2254.97" x2="1473.6" y2="2254.97" stroke="#262626" stroke-width="1.6"/>
<line x1="1473.6" y1="2254.97" x2="1473.6" y2="2259.97" stroke="#262626" stroke-width="1.6"/>
<line x1="972.85" y1="2254.97" x2="979.15" y2="2254.97" stroke="#262626" stroke-width="1.6"/>
<text x="953.47" y="2261.11" font-size="17.85" fill="#000" textLength="9.17" lengthAdjust="spacingAndGlyphs">0</text>
<line x1="972.85" y1="2218.17" x2="979.15" y2="2218.17" stroke="#262626" stroke-width="1.6"/>
<text x="944.3" y="2224.32" font-size="17.85" fill="#000" textLength="18.34" lengthAdjust="spacingAndGlyphs">20</text>
<line x1="972.85" y1="2181.37" x2="979.15" y2="2181.37" stroke="#262626" stroke-width="1.6"/>
<text x="944.3" y="2187.52" font-size="17.85" fill="#000" textLength="18.34" lengthAdjust="spacingAndGlyphs">40</text>
<line x1="972.85" y1="2144.57" x2="979.15" y2="2144.57" stroke="#262626" stroke-width="1.6"/>
<text x="944.3" y="2150.72" font-size="17.85" fill="#000" textLength="18.34" lengthAdjust="spacingAndGlyphs">60</text>
<line x1="972.85" y1="2107.77" x2="979.15" y2="2107.77" stroke="#262626" stroke-width="1.6"/>
<text x="944.3" y="2113.92" font-size="17.85" fill="#000" textLength="18.34" lengthAdjust="spacingAndGlyphs">80</text>
<line x1="972.85" y1="2070.98" x2="979.15" y2="2070.98" stroke="#262626" stroke-width="1.6"/>
<text x="935.13" y="2077.12" font-size="17.85" fill="#000" textLength="27.51" lengthAdjust="spacingAndGlyphs">100</text>
<line x1="972.85" y1="2034.18" x2="979.15" y2="2034.18" stroke="#262626" stroke-width="1.6"/>
<text x="935.13" y="2040.32" font-size="17.85" fill="#000" textLength="27.51" lengthAdjust="spacingAndGlyphs">120</text>
<line x1="972.85" y1="1997.38" x2="979.15" y2="1997.38" stroke="#262626" stroke-width="1.6"/>
<text x="935.13" y="2003.52" font-size="17.85" fill="#000" textLength="27.51" lengthAdjust="spacingAndGlyphs">140</text>
<line x1="972.85" y1="1960.58" x2="979.15" y2="1960.58" stroke="#262626" stroke-width="1.6"/>
<text x="935.13" y="1966.72" font-size="17.85" fill="#000" textLength="27.51" lengthAdjust="spacingAndGlyphs">160</text>
<text x="1019.94" y="2279.8" font-size="18.2" fill="#000">0</text>
<text x="1100.74" y="2279.8" font-size="18.2" fill="#000">0,1</text>
<text x="1178.29" y="2279.8" font-size="18.2" fill="#000">1</text>
<text x="1265.94" y="2279.8" font-size="18.2" fill="#000">2</text>
<text x="1346.56" y="2279.8" font-size="18.2" fill="#000">5</text>
<text x="1419.14" y="2279.8" font-size="18.2" fill="#000">10</text>
<text transform="translate(1421.82 2092.07) scale(1.27 1)" font-family="IPAGothic, 'Liberation Sans', sans-serif" font-size="18.2" stroke="#000" stroke-width="0.35">*</text>
<text transform="translate(923.04 2161.54) rotate(-90)" font-size="15.95" textLength="82.99" lengthAdjust="spacingAndGlyphs">% of CXCL8</text>
<text x="2.81" y="68.6" font-size="25" font-weight="bold" textLength="17.01" lengthAdjust="spacingAndGlyphs" fill="#000">A</text>
<text x="2.86" y="540.7" font-size="23.26" font-weight="bold" textLength="15.51" lengthAdjust="spacingAndGlyphs" fill="#000">B</text>
<text x="3.05" y="1027.7" font-size="23.84" font-weight="bold" textLength="14.91" lengthAdjust="spacingAndGlyphs" fill="#000">C</text>
<text x="2.18" y="1512.7" font-size="23.84" font-weight="bold" textLength="18.61" lengthAdjust="spacingAndGlyphs" fill="#000">D</text>
<text x="2.54" y="1963.3" font-size="24.71" font-weight="bold" textLength="13.55" lengthAdjust="spacingAndGlyphs" fill="#000">E</text>
<text x="824.48" y="60.3" font-size="25.29" font-weight="bold" textLength="13" lengthAdjust="spacingAndGlyphs" fill="#000">F</text>
<text x="837.34" y="537.3" font-size="25.58" font-weight="bold" textLength="18.21" lengthAdjust="spacingAndGlyphs" fill="#000">G</text>
<text x="847.86" y="1020.9" font-size="25.15" font-weight="bold" textLength="17.69" lengthAdjust="spacingAndGlyphs" fill="#000">H</text>
<text x="846.43" y="1516.7" font-size="24.85" font-weight="bold" textLength="6.94" lengthAdjust="spacingAndGlyphs" fill="#000">I</text>
<text x="846.74" y="1974.4" font-size="25.15" font-weight="bold" textLength="11.55" lengthAdjust="spacingAndGlyphs" fill="#000">L</text>
<text x="34.4" y="231.3" font-size="24.93" font-weight="bold" textLength="78.47" lengthAdjust="spacingAndGlyphs" fill="#000">BCPAP</text>
<text x="39.5" y="702.1" font-size="24.07" font-weight="bold" textLength="73.88" lengthAdjust="spacingAndGlyphs" fill="#000">8305C</text>
<text x="39.2" y="1177.7" font-size="24.93" textLength="74.87" lengthAdjust="spacingAndGlyphs" fill="#000">8505C</text>
<text x="46.04" y="1647.7" font-size="24.93" font-weight="bold" textLength="67.31" lengthAdjust="spacingAndGlyphs" fill="#000">TPC-1</text>
<text x="38.62" y="2071.7" font-size="25.29" font-weight="bold" textLength="51.76" lengthAdjust="spacingAndGlyphs" fill="#000">NHT</text>
<text x="411.66" y="21.3" font-size="25.29" font-weight="bold" textLength="65.37" lengthAdjust="spacingAndGlyphs" fill="#000">Basal</text>
<text x="1083.15" y="20.3" font-size="24.71" font-weight="bold" textLength="128.82" lengthAdjust="spacingAndGlyphs" fill="#000">after TNFα</text>
</svg></body></html>
